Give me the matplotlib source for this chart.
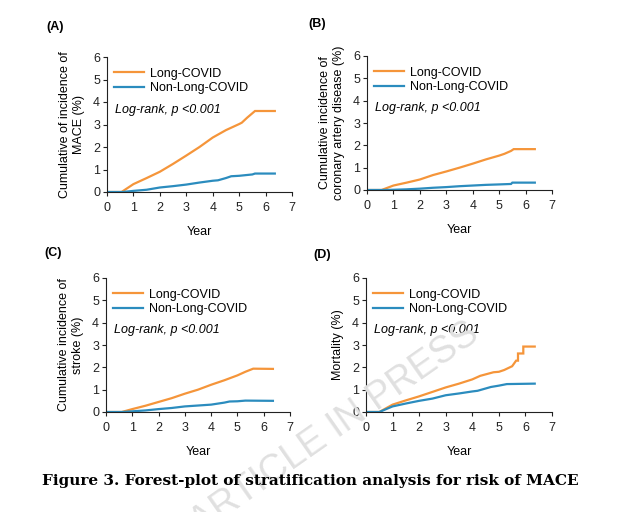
import matplotlib
matplotlib.use("Agg")
import matplotlib.pyplot as plt

plt.rcParams['font.family'] = ['Liberation Sans', 'DejaVu Sans']

# ---- data ----
years_ticks = [0, 1, 2, 3, 4, 5, 6, 7]
y_ticks = [0, 1, 2, 3, 4, 5, 6]

# Panel A: MACE
a_long_x = [0, 0.55, 1, 1.5, 2, 2.5, 3, 3.5, 4, 4.5, 5, 5.1, 5.3, 5.5, 5.6, 6.35]
a_long_y = [0, 0, 0.35, 0.62, 0.9, 1.25, 1.62, 2.0, 2.42, 2.75, 3.02, 3.08, 3.3, 3.5, 3.6, 3.6]
a_non_x = [0, 0.6, 1, 1.5, 2, 2.5, 3, 3.5, 4, 4.2, 4.5, 4.7, 5, 5.5, 5.6, 6.35]
a_non_y = [0, 0, 0.05, 0.1, 0.2, 0.26, 0.33, 0.42, 0.5, 0.52, 0.62, 0.7, 0.72, 0.78, 0.82, 0.82]

# Panel B: coronary artery disease
b_long_x = [0, 0.55, 1, 1.5, 2, 2.5, 3, 3.5, 4, 4.5, 5, 5.2, 5.45, 5.55, 6.35]
b_long_y = [0, 0, 0.2, 0.33, 0.47, 0.67, 0.83, 1.0, 1.18, 1.37, 1.54, 1.62, 1.75, 1.83, 1.83]
b_non_x = [0, 0.6, 1, 1.5, 2, 2.5, 3, 3.5, 4, 4.5, 5, 5.45, 5.5, 6.35]
b_non_y = [0, 0, 0.01, 0.03, 0.06, 0.1, 0.13, 0.17, 0.2, 0.23, 0.25, 0.27, 0.33, 0.33]

# Panel C: stroke
c_long_x = [0, 0.6, 1, 1.5, 2, 2.5, 3, 3.5, 4, 4.5, 5, 5.3, 5.6, 6.35]
c_long_y = [0, 0, 0.13, 0.28, 0.45, 0.62, 0.82, 1.0, 1.22, 1.42, 1.64, 1.8, 1.94, 1.93]
c_non_x = [0, 0.6, 1, 1.5, 2, 2.5, 3, 3.5, 4, 4.5, 4.7, 5, 5.3, 6.35]
c_non_y = [0, 0, 0.03, 0.07, 0.13, 0.18, 0.25, 0.29, 0.33, 0.42, 0.47, 0.48, 0.51, 0.5]

# Panel D: mortality
d_long_x = [0, 0.5, 1, 1.5, 2, 2.5, 3, 3.5, 4, 4.3, 4.8, 5, 5.2, 5.5, 5.65, 5.72, 5.72, 5.92, 5.92, 6.35]
d_long_y = [0, 0, 0.33, 0.52, 0.7, 0.9, 1.1, 1.27, 1.46, 1.62, 1.78, 1.8, 1.88, 2.05, 2.3, 2.3, 2.62, 2.62, 2.93, 2.93]
d_non_x = [0, 0.5, 1, 1.5, 2, 2.5, 3, 3.5, 4, 4.2, 4.7, 5, 5.3, 6.35]
d_non_y = [0, 0, 0.25, 0.38, 0.5, 0.6, 0.75, 0.83, 0.92, 0.95, 1.12, 1.18, 1.25, 1.27]

panels = [
    ("(A)", "Cumulative of incidence of\nMACE (%)", a_long_x, a_long_y, a_non_x, a_non_y),
    ("(B)", "Cumulative incidence of\ncoronary artery disease (%)", b_long_x, b_long_y, b_non_x, b_non_y),
    ("(C)", "Cumulative incidence of\nstroke (%)", c_long_x, c_long_y, c_non_x, c_non_y),
    ("(D)", "Mortality (%)", d_long_x, d_long_y, d_non_x, d_non_y),
]
series_names = ["Long-COVID", "Non-Long-COVID"]
caption = "Figure 3. Forest-plot of stratification analysis for risk of MACE"

ORANGE = "#F5953A"
BLUE = "#2B8CBE"

W, H = 640, 512
fig = plt.figure(figsize=(W / 100, H / 100), dpi=100)

# watermark
fig.text(335 / W, 1 - 428 / H, "ARTICLE IN PRESS", rotation=35, fontsize=27,
         color="#e0e0e0", ha="center", va="center", zorder=0)

# axes rectangles in pixels: (left, top, right, bottom)
rects = [(107, 57, 292, 192), (367, 56, 552, 190), (106, 278, 290, 412), (366, 278, 552, 412)]
label_pos = [(55, 27), (317, 24), (53, 253), (322, 255)]

FS = 9
for (lab, ylab, lx, ly, nx, ny), (l, t, r, b), (px, py) in zip(panels, rects, label_pos):
    ax = fig.add_axes([l / W, 1 - b / H, (r - l) / W, (b - t) / H])
    ax.set_facecolor("none")
    ax.plot(lx, ly, color=ORANGE, lw=1.6, label=series_names[0], solid_joinstyle="miter")
    ax.plot(nx, ny, color=BLUE, lw=1.6, label=series_names[1], solid_joinstyle="miter")
    ax.set_xlim(0, 7)
    ax.set_ylim(0, 6)
    ax.set_xticks(years_ticks)
    ax.set_yticks(y_ticks)
    for s in ("top", "right"):
        ax.spines[s].set_visible(False)
    for s in ("left", "bottom"):
        ax.spines[s].set_linewidth(0.8)
        ax.spines[s].set_color("#222222")
    ax.tick_params(axis="both", direction="out", length=3, width=0.8, labelsize=FS,
                   colors="#222222")
    ax.tick_params(axis="x", pad=4)
    ax.tick_params(axis="y", pad=2)
    ax.set_xlabel("Year", fontsize=FS, labelpad=9)
    ax.set_ylabel(ylab, fontsize=FS, labelpad=6, linespacing=1.15)
    ax.legend(loc="upper left", bbox_to_anchor=(-0.02, 1.0), frameon=False,
              fontsize=FS, handlelength=2.4, handletextpad=0.5, labelspacing=0.2,
              borderaxespad=0.45)
    ax.text(0.3, 3.65, "Log-rank, p <0.001", fontsize=FS, style="italic", va="center")
    fig.text(px / W, 1 - py / H, lab, fontsize=FS, fontweight="bold", ha="center", va="center")

fig.text(310 / W, 1 - 481 / H, caption, fontsize=11, fontweight="bold",
         family="DejaVu Serif", ha="center", va="center")

fig.savefig("out.png", dpi=100)
